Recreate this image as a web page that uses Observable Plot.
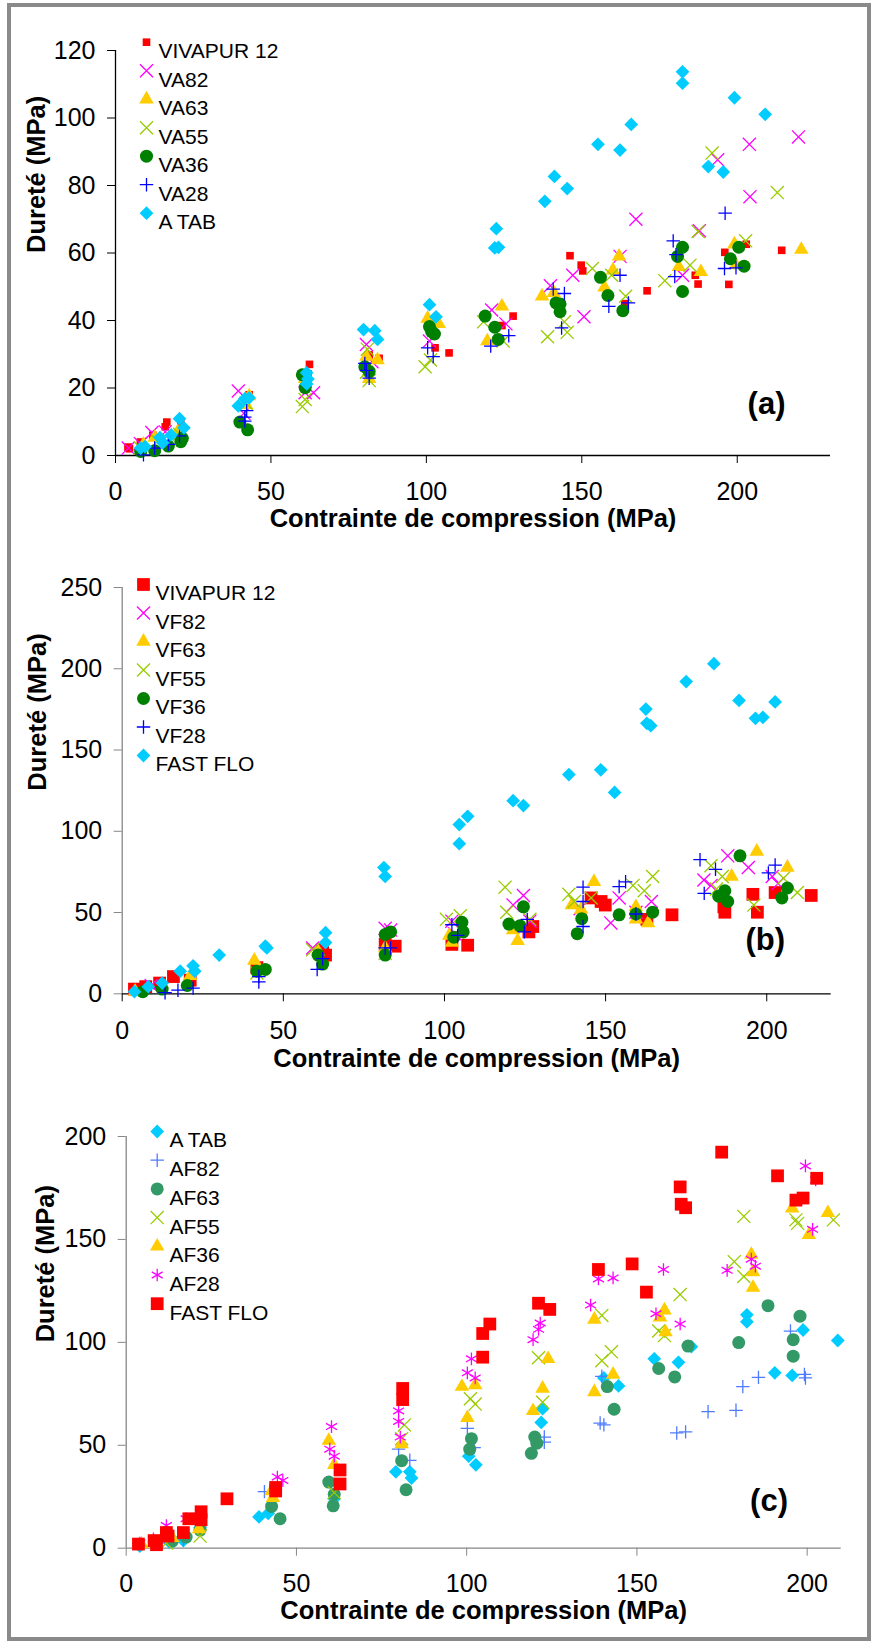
<!DOCTYPE html>
<html><head><meta charset="utf-8">
<script src="https://cdn.jsdelivr.net/npm/d3@7"></script>
<script src="https://cdn.jsdelivr.net/npm/@observablehq/plot@0.6"></script>
<style>
body{margin:0;background:#fff;}
#wrap{position:relative;width:874px;height:1644px;overflow:hidden;background:#fff;}
.panel{position:absolute;left:0;}
#frame{position:absolute;left:7px;top:3px;width:864px;height:1638px;border:4px solid #8a8a8a;box-sizing:border-box;pointer-events:none;z-index:5;}
</style></head>
<body>
<div id="wrap">
  <div id="pa" class="panel" style="top:0px"></div>
  <div id="pb" class="panel" style="top:540px"></div>
  <div id="pc" class="panel" style="top:1100px"></div>
  <div id="frame"></div>
</div>
<script>
// ---------- Panel (a) data : [contrainte, dureté] ----------
const a_vivapur = [[4,2.5],[4.5,2],[8,4],[12,6],[16.5,9.9],[16,8.5],[21,10],[21.5,8],[43,18],[62.4,27],[61.9,24.2],[61,21],[81.6,29.8],[84.8,28.8],[102.8,31.9],[107.3,30.4],[124.3,38.5],[127.9,41.3],[146.2,59.2],[149.8,56.4],[150.3,54.7],[163.8,45],[171,48.8],[186.5,53.4],[187.4,50.8],[196,60.2],[197.3,50.7],[202.9,62.6],[214.3,60.8]];
const a_va82 = [[4.1,2.2],[8,3.5],[11.7,6.8],[16,7],[39.5,19.1],[41.3,12.5],[61,18.6],[63.7,18.6],[80.7,32.9],[82.5,27.8],[101,33.9],[121,43.1],[125.6,39],[139.9,50.3],[147.1,53.4],[150.7,41.1],[162.3,59],[167.4,70],[182.4,53.4],[187.8,66.6],[193.7,87.6],[203.9,92.2],[204.1,76.7],[219.7,94.4]];
const a_va63 = [[9,3.3],[12.6,5.3],[20,7],[43,17.6],[42,15],[61,22.7],[80.7,29.3],[81.6,22.7],[84.3,28.3],[100.4,40.6],[104,39],[119.6,33.9],[124.3,44.2],[137.2,47.2],[141,48.2],[157.3,49.8],[160,54.9],[162,59],[181.2,55.9],[188.3,54.4],[199.1,62.6],[199.6,56.4],[220.6,61]];
const a_va55 = [[8,2.2],[13.5,4.3],[20.6,6.3],[42,15.5],[60.1,14.5],[61,16.6],[80.7,24.7],[81.6,22.2],[81,31.5],[99.6,26.3],[101.3,28.3],[118.4,39.6],[124.7,33.9],[139,35.2],[144.4,39.6],[145.3,36.5],[153.4,55.4],[159.6,53.4],[164.1,47.2],[176.7,51.8],[184.8,56.4],[187.4,66.4],[191.9,89.6],[202.7,63.6],[212.9,77.9]];
const a_va36 = [[8.1,1.2],[12.6,1.4],[17,2.8],[21,4.1],[21.5,5.1],[40,9.9],[42.5,7.6],[60.1,23.9],[61,20.1],[80.2,26.3],[81.6,24.9],[101,38.2],[101.7,36.7],[102.6,36],[118.9,41.3],[122,38],[123.1,34.4],[141.7,45.2],[143,44.9],[143,42.6],[156,52.8],[158.4,47.4],[163.2,42.9],[180.8,59],[182.4,61.7],[182.4,48.6],[197.8,58.3],[200.5,61.7],[202.2,56.1]];
const a_va28 = [[9,0.2],[12.6,2.2],[17,3.3],[20.6,5.8],[41.6,11.4],[41.6,10.2],[42.2,13.3],[80.2,27.3],[80.7,25.2],[81.6,22.9],[100.4,31.9],[102.2,29.3],[120.7,32.4],[126.5,35.5],[140.8,49.3],[144.4,48],[143.5,37.8],[158.7,44.2],[162.3,53.4],[165,45.2],[179.4,63.6],[180.3,59.5],[179.9,53],[195.9,55.4],[196.1,71.8],[199.6,55.6]];
const a_atab = [[8.1,2.2],[9.5,2.6],[14.3,5.3],[15.2,3.8],[17.9,6.1],[20.6,10.9],[22,8.2],[39.5,14.7],[41.6,16.8],[43,17.1],[61.5,24.5],[61.9,22.7],[61.5,21.2],[79.8,37.3],[83.4,37],[84.3,34.4],[101,44.7],[103.1,41.1],[122.5,67.2],[122,61.5],[123.2,61.7],[138.1,75.3],[141.2,82.7],[145.3,79.1],[155.2,92.2],[162.3,90.5],[165.9,98.1],[182.4,113.7],[182.4,110.3],[190.7,85.6],[195.5,84],[199.1,106],[209,101.1]];

// ---------- Panel (b) data ----------
const b_vivapur = [[3.8,2.9],[7.3,4.4],[11.6,6.6],[15.9,10.6],[21.1,8.4],[41.8,16.1],[62.2,27.1],[63.1,23.8],[81.6,30.4],[84.7,29.3],[102.3,30.4],[107.2,29.9],[127.4,41.4],[126.2,38.1],[145.5,59],[148.6,56.8],[149.9,54.6],[162.8,45.8],[170.6,48.6],[186.7,53.5],[187,50.2],[195.7,61.2],[197.1,50.2],[202.6,62.3],[213.8,60.5]];
const b_vf82 = [[9,5.1],[59.1,28.2],[81.6,40.3],[83.3,39.2],[102.3,44.7],[103.2,37],[121.3,54.6],[124.5,60.5],[126.5,44.7],[142.1,52.4],[151.6,43.6],[154.2,59],[159.4,50.2],[164.2,56.8],[180.5,70],[182.7,66.7],[187.9,84.9],[194.3,77.7],[201.7,72.2],[203.5,67.8]];
const b_vf63 = [[4,1.5],[21.1,11],[41,20.5],[42.4,15],[60.8,26],[81.6,28.2],[101.5,35.9],[102.3,31.5],[121.3,39.2],[122.7,32.6],[139.5,54.6],[142.4,51.9],[146.4,68.9],[159.4,53.5],[159.4,45.8],[163.2,43.6],[189.1,72.2],[196.9,87.6],[206.4,77.7]];
const b_vf55 = [[41.8,12.8],[59.1,27.1],[81.6,24.9],[100.6,45.8],[104.9,48],[118.8,65.6],[119.3,50.2],[126.5,45.8],[138.6,61.2],[140.3,56.8],[145.5,59],[158.5,66.7],[162,63.4],[164.6,72.2],[182.7,78.8],[184.4,64.5],[186.2,72.2],[196,54.6],[205.2,71.1],[209.5,62.3]];
const b_vf36 = [[6.4,1.3],[12.4,2.9],[20.2,5.1],[41.8,13.9],[44.4,15],[60.8,23.8],[62.2,18.3],[81.6,36.5],[81.6,23.8],[83.3,38.1],[102.9,34.8],[105.4,44],[105.8,38.1],[120,42.9],[123.4,41.8],[124.5,53.5],[141.2,37],[142.6,46.2],[154.2,48.6],[159.4,49.1],[164.6,50.2],[185.1,60.1],[187,63.4],[187.9,56.8],[191.7,84.9],[204.7,59],[206.4,65.1]];
const b_vf28 = [[13.3,0.7],[17.3,2.2],[22,3.5],[42.4,10.6],[42.4,7.3],[60.5,15],[62.2,21.6],[81.6,28.2],[83.3,28.2],[102.3,42.5],[104.1,35.9],[124.8,38.1],[125.7,45.8],[143,41.4],[143,65.6],[143,56.8],[154.2,66],[156.2,68.9],[159.4,49.1],[179.3,82.5],[180.6,61.8],[184.1,76.6],[200.5,74.4],[202.6,79.2]];
const b_fastflo = [[3.8,1.3],[8.1,4.4],[12.4,6.6],[18,13.9],[22,17.2],[22.5,13.9],[30.1,23.8],[44.4,29.3],[44.9,28.2],[63.1,37.6],[63.1,31.5],[81.2,77.7],[81.6,72.2],[104.6,104.1],[107.2,109.2],[104.6,92.4],[121.3,118.8],[124.5,115.8],[138.6,134.9],[148.5,137.8],[152.8,123.9],[162.5,175.2],[162.8,166.4],[164,165],[175,192.1],[183.6,203.1],[191.4,180.5],[196.5,169.5],[198.8,170.1],[202.6,179.6]];

// ---------- Panel (c) data ----------
const c_atab = [[4,1],[12.7,3],[16.8,3.7],[21.7,10.1],[39,15.2],[41.7,16.9],[61.1,24],[79.2,37.1],[83.3,37.1],[83.8,34.1],[100.6,44.7],[102.7,40.5],[121.9,61.1],[122.3,67.8],[140.3,82.7],[144.6,78.8],[155.1,92],[162.2,90.3],[166,97.9],[182.3,113.4],[182.3,110],[190.5,85.2],[195.6,83.9],[198.8,106],[209,100.9]];
const c_af82 = [[9.4,2.5],[16.8,4.2],[40.6,27.5],[80,48.1],[83.3,42.7],[100.2,58.2],[102.2,48.9],[122.8,54],[122.8,51.5],[139.7,83.5],[139.2,60.8],[140.3,59.9],[161.7,56],[164.3,56.5],[170.9,66.3],[179.1,67],[181.1,78.5],[185.7,83],[195.1,105.5],[199.2,84.4],[199.5,82.7]];
const c_af63 = [[13.5,3.4],[17.6,5.4],[21.7,8.8],[42.7,20.3],[45.2,14.3],[59.5,32.1],[61.1,26.2],[60.8,20.6],[80.9,42.5],[82.2,28.4],[101.4,53.2],[100.9,48.1],[119,46.1],[120,54],[120.6,51],[141.3,78.5],[143.3,67.5],[156.4,87.3],[161.1,83.2],[165,98.2],[179.9,99.9],[188.5,117.8],[195.9,101.3],[195.9,93.3],[197.9,112.7]];
const c_af55 = [[11.8,2.5],[21.7,5.9],[61.1,27],[80.9,53.2],[81.7,59.9],[101.1,72.6],[102.5,70],[121.1,92.5],[122.3,70.9],[139.7,91.1],[139.7,113.1],[142.5,95.4],[156.4,105.5],[158.1,103.3],[162.7,123.2],[178.6,139.2],[181.4,161.2],[181.4,132],[196.7,159.5],[197.2,157.8],[207.7,159.5]];
const c_af36 = [[4.5,2],[13.5,5.1],[21.4,9.3],[42.7,27.8],[43.1,24.5],[59.5,52.3],[61.1,40.5],[80.9,50.6],[98.6,78.5],[100.2,63.3],[102.5,79.3],[119.5,66.7],[122.3,77.6],[123.9,92],[137.5,75.9],[137.5,111.1],[143,84.4],[156.8,112.2],[158.1,115.6],[158.4,105],[183.6,142.6],[184.1,134.2],[184.1,126.6],[195.6,165.1],[200.5,152.2],[206.1,162.9]];
const c_af28 = [[4,2.5],[8,4.5],[11.8,11],[17.6,14.3],[44.4,34.6],[46,32.9],[60.3,59.1],[59.8,48.1],[61.1,44.7],[80,66.7],[80,61.6],[80.5,54],[100.2,85.2],[101.4,92],[102.5,82.7],[119.5,101.3],[121.1,106.3],[121.6,109.4],[136.4,118.1],[138.7,130.8],[143,131.3],[155.6,113.9],[157.8,135.4],[162.7,108.9],[176.5,135],[183.6,140.4],[184.8,137],[199.5,185.7],[202.5,178.9],[201.6,154.9]];
const c_fastflo = [[3.6,2],[8.2,3.7],[8.9,1.7],[11.8,7.6],[12.3,5.9],[16.8,7.6],[18.4,14.3],[22,17.7],[22,13.8],[29.6,24],[43.9,29.5],[43.9,27.8],[62.8,38],[62.8,31.2],[81.2,77.6],[81.2,72.2],[104.7,92.8],[104.7,104.3],[106.8,108.9],[121.1,119],[124.4,116],[138.7,135.4],[148.6,138.1],[152.8,124.4],[162.7,175.5],[163,167.1],[164.3,165.4],[174.9,192.4],[191.3,180.9],[196.7,169.1],[198.8,170.1],[202.8,179.7]];

// ---------- labels & ticks ----------
const namesA = ["VIVAPUR 12","VA82","VA63","VA55","VA36","VA28","A TAB"];
const namesB = ["VIVAPUR 12","VF82","VF63","VF55","VF36","VF28","FAST FLO"];
const namesC = ["A TAB","AF82","AF63","AF55","AF36","AF28","FAST FLO"];
const xTicks = [0,50,100,150,200];
const yTicksA = [0,20,40,60,80,100,120];
const yTicksB = [0,50,100,150,200,250];
const yTicksC = [0,50,100,150,200];
const xTitle = "Contrainte de compression (MPa)";
const yTitle = "Dureté (MPa)";

// ---------- marker styles ----------
const ST = {
  redSmall: {symbol:"square", color:"#ff0000", filled:true, r:4.3},
  red:      {symbol:"square", color:"#ff0000", filled:true, r:7.2},
  magX:     {symbol:"times", color:"#ff00ff", filled:false, r:6},
  yelTri:   {symbol:"triangle", color:"#ffcc00", filled:true, r:5.4},
  ygX:      {symbol:"times", color:"#99cc00", filled:false, r:6},
  green:    {symbol:"circle", color:"#008000", filled:true, r:6.5},
  seagreen: {symbol:"circle", color:"#339966", filled:true, r:6.5},
  bluePlus: {symbol:"plus", color:"#0000ff", filled:false, r:4.4},
  lbluePlus:{symbol:"plus", color:"#4f7cff", filled:false, r:4.4},
  cyanDia:  {symbol:"diamond2", color:"#00ccff", filled:true, r:6.2},
  magStar:  {symbol:"asterisk", color:"#ff00ff", filled:false, r:6}
};
function dotOpts(s) {
  return s.filled
    ? {symbol:s.symbol, fill:s.color, stroke:"none", r:s.r}
    : {symbol:s.symbol, stroke:s.color, fill:"none", strokeWidth:1.3, r:s.r};
}

function panel(el, p) {
  const marks = [
    Plot.ruleY([0], {stroke:p.xAxisColor, strokeWidth:1.3}),
    Plot.ruleX([0], {stroke:p.yAxisColor, strokeWidth:1.3}),
    Plot.axisX({ticks:xTicks, tickSize:8, tickPadding:p.xPad, fontSize:25, stroke:p.xAxisColor, fill:"black", label:null, tickFormat:d=>String(d)}),
    Plot.axisY({ticks:p.yTicks, tickSize:8, tickPadding:12, fontSize:25, stroke:p.yAxisColor, fill:"black", label:null, tickFormat:d=>String(d)})
  ];
  p.series.forEach(s => {
    marks.push(Plot.dot(s.data, {x:d=>d[0], y:d=>d[1], ...dotOpts(s.style)}));
  });
  p.series.forEach((s, i) => {
    const dy = p.legDy + i * p.legStep;
    marks.push(Plot.dot([s.name], {frameAnchor:"top-left", dx:p.legMarkDx, dy, ...dotOpts(s.style)}));
    marks.push(Plot.text([s.name], {frameAnchor:"top-left", dx:p.legTextDx, dy:dy + 1, text:d=>d, textAnchor:"start", fontSize:21, fill:"black"}));
  });
  marks.push(Plot.text([xTitle], {frameAnchor:"bottom", dy:p.xTitleDy, text:d=>d, fontSize:25.5, fontWeight:"bold", fill:"black"}));
  marks.push(Plot.text([yTitle], {frameAnchor:"left", dx:p.yTitleDx, rotate:-90, text:d=>d, fontSize:25.5, fontWeight:"bold", fill:"black"}));
  marks.push(Plot.text([p.letter], {frameAnchor:"bottom-right", dx:p.letDx, dy:p.letDy, text:d=>d, fontSize:31, fontWeight:"bold", fill:"black"}));
  const chart = Plot.plot({
    width:874, height:p.height,
    marginTop:p.mt, marginRight:p.mr, marginBottom:p.mb, marginLeft:p.ml,
    x:{domain:[0,p.xMax]}, y:{domain:[0,p.yMax]},
    style:{fontFamily:"'Liberation Sans', Arial, sans-serif", background:"transparent", overflow:"visible", color:"black"},
    marks
  });
  document.getElementById(el).appendChild(chart);
}

panel("pa", {
  height:540, mt:50, mr:44, mb:85, ml:115, xMax:230, yMax:120, yTicks:yTicksA,
  xAxisColor:"#000", yAxisColor:"#000", xPad:19,
  legMarkDx:31, legTextDx:43, legDy:-8.3, legStep:28.5,
  xTitleDy:71, yTitleDx:-79, letter:"(a)", letDx:-45, letDy:-42,
  series:[
    {name:namesA[0], data:a_vivapur, style:ST.redSmall},
    {name:namesA[1], data:a_va82, style:ST.magX},
    {name:namesA[2], data:a_va63, style:ST.yelTri},
    {name:namesA[3], data:a_va55, style:ST.ygX},
    {name:namesA[4], data:a_va36, style:ST.green},
    {name:namesA[5], data:a_va28, style:ST.bluePlus},
    {name:namesA[6], data:a_atab, style:ST.cyanDia}
  ]
});
panel("pb", {
  height:560, mt:47, mr:43.3, mb:106.7, ml:121.7, xMax:220, yMax:250, yTicks:yTicksB,
  xAxisColor:"#000", yAxisColor:"#868686", xPad:19,
  legMarkDx:21.3, legTextDx:33.3, legDy:-3, legStep:28.5,
  xTitleDy:72.7, yTitleDx:-84.7, letter:"(b)", letDx:-46.2, letDy:-43.8,
  series:[
    {name:namesB[0], data:b_vivapur, style:ST.red},
    {name:namesB[1], data:b_vf82, style:ST.magX},
    {name:namesB[2], data:b_vf63, style:ST.yelTri},
    {name:namesB[3], data:b_vf55, style:ST.ygX},
    {name:namesB[4], data:b_vf36, style:ST.green},
    {name:namesB[5], data:b_vf28, style:ST.bluePlus},
    {name:namesB[6], data:b_fastflo, style:ST.cyanDia}
  ]
});
panel("pc", {
  height:544, mt:36, mr:33.3, mb:96.3, ml:125.7, xMax:210, yMax:200, yTicks:yTicksC,
  xAxisColor:"#868686", yAxisColor:"#868686", xPad:18,
  legMarkDx:31, legTextDx:43.3, legDy:-5, legStep:28.7,
  xTitleDy:71, yTitleDx:-80, letter:"(c)", letDx:-53.2, letDy:-37.7,
  series:[
    {name:namesC[0], data:c_atab, style:ST.cyanDia},
    {name:namesC[1], data:c_af82, style:ST.lbluePlus},
    {name:namesC[2], data:c_af63, style:ST.seagreen},
    {name:namesC[3], data:c_af55, style:ST.ygX},
    {name:namesC[4], data:c_af36, style:ST.yelTri},
    {name:namesC[5], data:c_af28, style:ST.magStar},
    {name:namesC[6], data:c_fastflo, style:ST.red}
  ]
});
</script>
</body></html>
